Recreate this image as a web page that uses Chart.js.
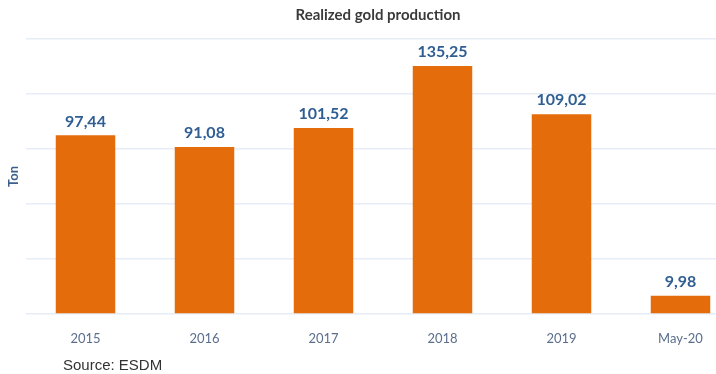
<!DOCTYPE html>
<html>
<head>
<meta charset="utf-8">
<script src="https://cdn.jsdelivr.net/npm/chart.js@4/dist/chart.umd.min.js"></script>
<style>
  html, body { margin: 0; padding: 0; background: #ffffff; overflow: hidden; width: 716px; height: 374px; }
  #wrap { position: relative; width: 716px; height: 374px; overflow: hidden; }
  canvas { position: absolute; left: 0; top: 0; }
  #source { position: absolute; left: 63px; top: 356px; font-family: "Liberation Sans", Arial, sans-serif; font-size: 15px; color: #333333; }
</style>
</head>
<body>
<div id="wrap">
  <canvas id="c" width="740" height="374"></canvas>
  <div id="source">Source: ESDM</div>
</div>
<script>
const categories = ["2015", "2016", "2017", "2018", "2019", "May-20"];
const production = [97.44, 91.08, 101.52, 135.25, 109.02, 9.98];
const valueLabels = ["97,44", "91,08", "101,52", "135,25", "109,02", "9,98"];
const chartTitle = "Realized gold production";
const yTitle = "Ton";

const labelPlugin = {
  id: 'valueLabels',
  afterDatasetsDraw(chart) {
    const ctx = chart.ctx;
    const meta = chart.getDatasetMeta(0);
    ctx.save();
    ctx.font = 'bold 16px Lato, "Open Sans", sans-serif';
    ctx.fillStyle = '#2F5E93';
    ctx.textAlign = 'center';
    ctx.textBaseline = 'bottom';
    meta.data.forEach((bar, i) => {
      ctx.fillText(valueLabels[i], bar.x, bar.y - 6);
    });
    ctx.restore();
  }
};

const titleShift = {
  id: 'titleShift',
  afterLayout(chart) {
    if (chart.titleBlock) {
      chart.titleBlock.left += 8;
      chart.titleBlock.right += 8;
    }
  }
};

new Chart(document.getElementById('c'), {
  type: 'bar',
  data: {
    labels: categories,
    datasets: [{
      data: production,
      backgroundColor: '#E46C0A',
      borderWidth: 0,
      barPercentage: 0.5,
      categoryPercentage: 1.0
    }]
  },
  options: {
    responsive: false,
    animation: false,
    layout: { padding: { left: 0, right: 0, top: 0, bottom: 0 } },
    plugins: {
      legend: { display: false },
      tooltip: { enabled: false },
      title: {
        display: true,
        text: chartTitle,
        color: '#3A3A3A',
        font: { family: 'Lato, "Open Sans", sans-serif', size: 15, weight: 'bold' },
        padding: { top: 6, bottom: 15 }
      }
    },
    scales: {
      x: {
        grid: { display: false, drawTicks: false },
        border: { display: false },
        ticks: {
          color: '#5A6E8C',
          font: { family: 'Lato, "Open Sans", sans-serif', size: 13 },
          padding: 17,
          maxRotation: 0
        },
        afterFit(scale) { scale.height = 60; }
      },
      y: {
        min: 0,
        max: 150,
        grid: { color: '#E6EDF6', lineWidth: 1.5, drawTicks: false },
        border: { display: false },
        ticks: { display: false, stepSize: 30 },
        title: {
          display: true,
          text: yTitle,
          color: '#3D5F8E',
          font: { family: 'Lato, "Open Sans", sans-serif', size: 13, weight: 'bold' },
          padding: { top: 6, bottom: 0 }
        },
        afterFit(scale) { scale.width = 26; }
      }
    }
  },
  plugins: [labelPlugin, titleShift]
});
</script>
</body>
</html>
